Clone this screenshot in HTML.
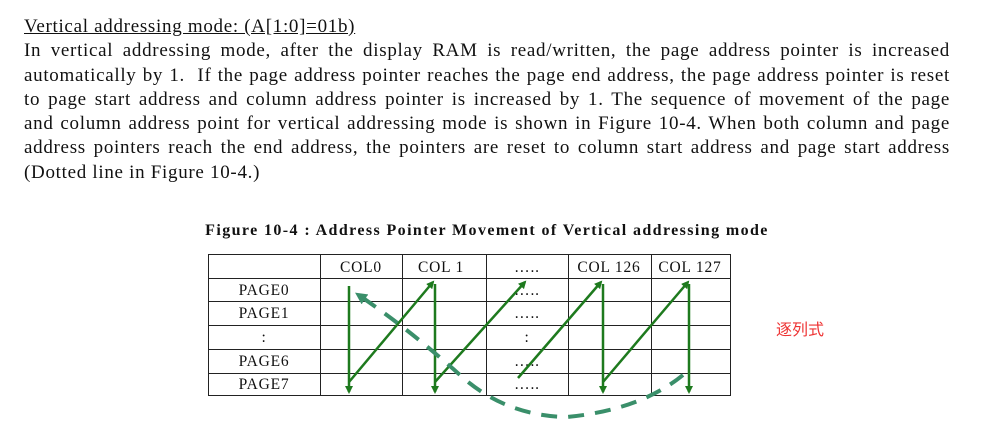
<!DOCTYPE html>
<html><head><meta charset="utf-8"><style>
body{margin:0;width:996px;height:431px;background:#fff;position:relative;overflow:hidden;font-family:"Liberation Serif",serif;color:#111}
#t{position:absolute;left:24px;top:15px;width:926px;font-size:19px;line-height:24.3px;letter-spacing:0.7px}
#t div{text-align:justify;text-align-last:justify;white-space:nowrap}
#t div.l{text-align-last:left}
#t u{text-decoration:underline}
#cap{position:absolute;left:0;width:974px;top:222px;text-align:center;font-weight:bold;font-size:16px;letter-spacing:1.4px}
#red{position:absolute;left:776px;top:316px;color:#e33;font-family:"Noto Sans CJK SC",sans-serif;font-size:16px}
svg{position:absolute;left:0;top:0}
</style></head><body>
<div id="t">
<div class="l"><u>Vertical addressing mode: (A[1:0]=01b)</u></div>
<div>In vertical addressing mode, after the display RAM is read/written, the page address pointer is increased</div>
<div>automatically by 1. &nbsp;If the page address pointer reaches the page end address, the page address pointer is reset</div>
<div>to page start address and column address pointer is increased by 1. The sequence of movement of the page</div>
<div>and column address point for vertical addressing mode is shown in Figure 10-4. When both column and page</div>
<div>address pointers reach the end address, the pointers are reset to column start address and page start address</div>
<div class="l">(Dotted line in Figure 10-4.)</div>
</div>
<div id="cap">Figure 10-4 : Address Pointer Movement of Vertical addressing mode</div>
<div id="red">逐列式</div>
<svg width="996" height="431" font-family="Liberation Serif" font-size="15.5" letter-spacing="0.8">
<defs><marker id="a" markerWidth="8" markerHeight="8" refX="6" refY="4" orient="auto" markerUnits="userSpaceOnUse" viewBox="0 0 8 8"><path d="M0,0L8,4L0,8z" fill="#1e7a1e"/></marker>
<marker id="b" markerWidth="12" markerHeight="12" refX="6" refY="6" orient="auto" markerUnits="userSpaceOnUse" viewBox="0 0 12 12"><path d="M12,6L0,0L0,12z" fill="#3a8f6a"/></marker></defs>
<g stroke="#222" stroke-width="1" fill="none">
<rect x="208.5" y="254.5" width="522" height="141"/>
<path d="M208 278.5H731M208 301.5H731M208 325.5H731M208 349.5H731M208 373.5H731M320.5 254V396M402.5 254V396M486.5 254V396M568.5 254V396M651.5 254V396"/>
</g>
<g text-anchor="middle" fill="#111">
<text x="361" y="272">COL0</text><text x="441" y="272">COL 1</text><text x="527" y="272">…..</text><text x="609" y="272">COL 126</text><text x="690" y="272">COL 127</text>
<text x="264" y="295">PAGE0</text><text x="264" y="318">PAGE1</text><text x="264" y="342">:</text><text x="264" y="366">PAGE6</text><text x="264" y="389">PAGE7</text>
<text x="527" y="295">…..</text><text x="527" y="318">…..</text><text x="527" y="342">:</text><text x="527" y="366">…..</text><text x="527" y="389">…..</text>
</g>
<g stroke="#1e7a1e" stroke-width="2.5" fill="none">
<path d="M349 286V392" marker-end="url(#a)"/>
<path d="M349 382L433 282" marker-end="url(#a)"/>
<path d="M435 284V392" marker-end="url(#a)"/>
<path d="M435 382L525 282" marker-end="url(#a)"/>
<path d="M518 378L601 282" marker-end="url(#a)"/>
<path d="M603 284V392" marker-end="url(#a)"/>
<path d="M603 382L688 282" marker-end="url(#a)"/>
<path d="M689 284V392" marker-end="url(#a)"/>
</g>
<path d="M683 375Q640 410 567 417Q505 416 460 375Q410 330 360 296" stroke="#3a8f6a" stroke-width="4" stroke-dasharray="16 11" fill="none" marker-end="url(#b)"/>
</svg>
</body></html>
